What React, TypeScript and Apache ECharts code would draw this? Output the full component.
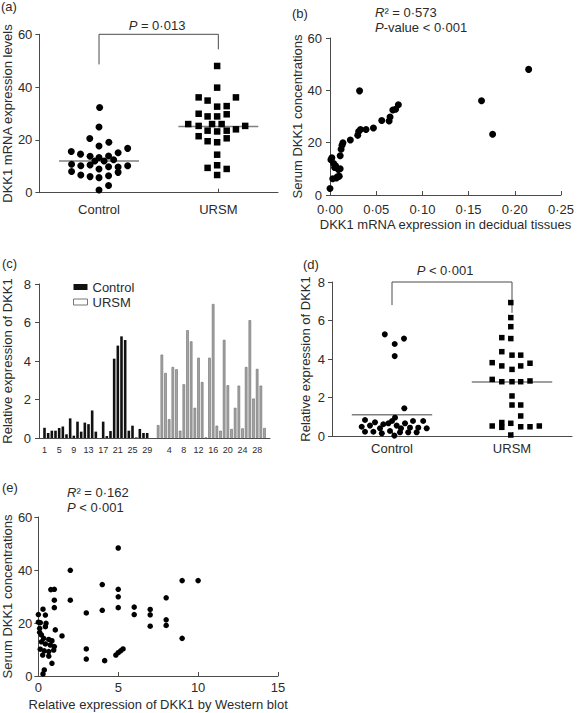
import React, { useEffect, useRef } from 'react';
import * as echarts from 'echarts';

// ---------- DATA ----------
const groups = ['Control', 'URSM'];

// (a) DKK1 mRNA expression levels: [x position (Control=1, URSM=3), value]
const aControl: number[][] = [
  [1.01, 32.3], [1.0, 24.9], [0.845, 20.5], [1.165, 19.1], [1.0, 17.7], [1.48, 16.8], [0.535, 15.6],
  [1.32, 15.1], [0.69, 14.6], [0.85, 13.8], [1.16, 13.9], [1.0, 13.3], [1.245, 12.5], [0.93, 12.0],
  [1.085, 12.0], [0.54, 10.8], [0.695, 10.2], [0.85, 10.5], [1.48, 10.2], [1.32, 9.7], [1.16, 9.8],
  [1.0, 9.0], [0.54, 8.0], [1.32, 7.7], [0.695, 6.7], [0.85, 6.1], [1.16, 6.4], [1.0, 5.7],
  [1.16, 2.7], [1.0, 1.0],
];
const aURSM: number[][] = [
  [2.98, 48.0], [2.98, 39.8], [2.67, 36.1], [3.295, 36.1], [2.82, 34.9], [2.98, 32.6], [3.14, 32.8],
  [2.67, 29.9], [2.82, 28.9], [2.98, 28.9], [3.14, 29.7], [2.495, 26.0], [2.67, 25.3], [2.895, 26.0],
  [3.055, 26.0], [3.45, 25.3], [2.82, 23.5], [2.98, 23.2], [3.14, 23.5], [3.295, 24.0], [2.67, 21.4],
  [2.82, 19.5], [2.98, 19.1], [3.14, 20.6], [2.98, 14.4], [2.82, 9.4], [3.14, 9.0], [2.98, 10.4],
  [2.98, 6.7],
];
const aMedians = [12.0, 25.1];
const aBracket = [48.6, 60, 54.3]; // left end, top, right end
const aP = '0·013';

// (b) DKK1 mRNA in decidual tissues vs serum DKK1
const bPoints: number[][] = [
  [0.0, 2.5], [0.001, 13.5], [0.002, 14.2], [0.003, 6.2], [0.004, 12.0], [0.005, 10.5], [0.006, 11.2],
  [0.007, 6.5], [0.008, 7.0], [0.009, 9.8], [0.010, 7.2], [0.011, 10.0], [0.011, 15.0], [0.012, 17.5],
  [0.013, 19.0], [0.014, 20.0], [0.022, 21.0], [0.030, 22.8], [0.031, 24.3], [0.033, 25.0],
  [0.032, 39.8], [0.039, 25.0], [0.047, 25.6], [0.056, 28.5], [0.064, 28.3], [0.065, 29.8],
  [0.068, 32.5], [0.071, 32.8], [0.074, 34.5], [0.164, 36.0], [0.176, 23.2], [0.215, 48.0],
];
const bR2 = '0·573';
const bP = '0·001';

// (c) relative expression of DKK1 per sample
const cControl = [
  0.53, 0.26, 0.38, 0.38, 0.52, 0.6, 0.19, 1.02, 0.12, 0.85, 0.33, 0.8, 0.72, 1.43, 0.33,
  0.0, 0.85, 0.1, 0.36, 4.12, 4.8, 5.28, 5.09, 0.38, 0.64, 0.03, 0.47, 0.26, 0.26, 0.0,
];
const cURSM = [
  0.67, 4.33, 3.38, 0.98, 3.69, 3.57, 0.38, 2.79, 5.6, 5.02, 1.57, 4.17, 2.91, 0.03, 4.17,
  6.96, 0.64, 0.38, 5.1, 2.74, 0.47, 1.57, 2.72, 0.5, 3.69, 6.12, 2.05, 3.59, 2.72, 0.52,
];

// (d) relative expression of DKK1 by group
const dControl: number[][] = [
  [0.88, 5.28], [1.045, 4.78], [1.2, 5.06], [1.045, 4.15], [1.205, 1.44],
  [1.05, 0.95], [1.0, 0.78], [0.94, 0.66], [0.55, 0.83], [0.717, 0.71], [0.855, 0.61], [1.217, 0.66],
  [1.35, 0.78], [1.52, 0.78], [0.495, 0.48], [0.633, 0.54], [0.8, 0.4], [1.078, 0.54], [1.15, 0.4],
  [1.3, 0.43], [1.438, 0.43], [1.578, 0.4], [0.55, 0.22], [0.69, 0.22], [0.83, 0.14], [0.967, 0.26],
  [1.133, 0.19], [1.27, 0.19], [1.41, 0.19], [1.04, 0.02],
];
const dURSM: number[][] = [
  [2.98, 6.93], [2.98, 6.15], [2.98, 5.68], [2.83, 5.11], [2.98, 5.06], [2.83, 4.38], [3.0, 4.2],
  [3.145, 4.2], [2.67, 3.81], [2.83, 3.64], [3.0, 3.46], [3.145, 3.64], [3.3, 3.78], [2.67, 2.94],
  [2.83, 2.82], [3.0, 2.82], [3.145, 2.82], [3.3, 2.86], [3.0, 2.08], [3.0, 1.61], [3.145, 1.61],
  [3.145, 1.04], [2.67, 0.52], [2.83, 0.7], [2.83, 0.45], [2.98, 0.66], [3.145, 0.48], [3.3, 0.48],
  [3.455, 0.52], [2.98, 0.05],
];
const dMedians = [1.1, 2.8];
const dBracket = [6.8, 8, 6.4];
const dP = '0·001';

// (e) Western blot vs serum DKK1
const ePoints: number[][] = [
  [0.0, 23.2], [0.29, 25.2], [0.44, 23.0], [0.0, 20.3], [0.12, 20.1], [0.48, 19.9], [0.44, 18.6],
  [0.08, 18.0], [0.08, 16.5], [0.19, 15.5], [0.33, 14.2], [0.65, 13.8], [0.85, 13.3], [0.19, 12.9],
  [0.44, 12.1], [0.75, 11.7], [1.0, 11.1], [0.12, 10.1], [0.37, 9.5], [0.65, 9.2], [0.96, 9.8],
  [0.27, 7.9], [0.65, 7.5], [0.85, 4.8], [0.37, 2.3], [0.29, 0.8], [1.06, 17.4], [1.48, 15.1],
  [0.78, 32.6], [1.0, 32.7], [1.0, 28.6], [1.0, 25.8],
  [2.0, 39.9], [2.0, 28.6], [3.0, 23.8], [3.0, 10.2], [3.0, 6.4], [4.0, 34.5], [4.0, 24.8],
  [4.15, 5.8], [4.85, 7.9], [5.0, 8.8], [5.15, 9.5], [5.3, 10.2], [5.0, 48.3], [5.0, 32.7],
  [5.0, 29.9], [5.0, 25.8], [6.0, 26.0], [6.0, 23.2], [7.0, 25.1], [7.0, 23.1], [7.0, 18.8],
  [8.0, 29.5], [8.0, 21.2], [8.0, 19.1], [9.0, 36.0], [9.0, 14.2], [10.0, 36.0],
];
const eR2 = '0·162';
const eP = '0·001';

// ---------- STYLE ----------
const FONT = '"Liberation Sans", Arial, Helvetica, sans-serif';
const TXT = '#2b2b2b';
const AX = '#4a4a4a';
const MED = '#808080';
const MEDIAN_HALF = 0.67;

const dot = (v: number, d: number) => v.toFixed(d).replace('.', '·');

const cCategories = [
  'start',
  ...cControl.map((_, i) => `C${i + 1}`),
  'gap',
  ...cURSM.map((_, i) => `U${i + 1}`),
  'end',
];
const cControlSeries = cCategories.map((c) => (c[0] === 'C' ? cControl[+c.slice(1) - 1] : '-'));
const cURSMSeries = cCategories.map((c) => (c[0] === 'U' ? cURSM[+c.slice(1) - 1] : '-'));

function yAxisOf(gridIndex: number, max: number, interval: number, name: string, nameGap: number, margin: number) {
  return {
    type: 'value', gridIndex, min: 0, max, interval, name, nameLocation: 'middle', nameGap,
    nameTextStyle: { fontSize: 13, fontFamily: FONT, color: TXT },
    axisLine: { show: true, lineStyle: { color: AX, width: 1 } },
    axisTick: { show: true, inside: false, length: 4, lineStyle: { color: AX } },
    axisLabel: { fontSize: 13, fontFamily: FONT, color: TXT, margin },
    splitLine: { show: false },
  };
}

function groupXAxis(gridIndex: number, margin: number) {
  return {
    type: 'value', gridIndex, min: 0, max: 4, interval: 1,
    axisLine: { show: true, lineStyle: { color: AX, width: 1 } },
    axisTick: { show: true, inside: true, length: 4, lineStyle: { color: AX }, customValues: [1, 3] },
    axisLabel: {
      fontSize: 13, fontFamily: FONT, color: TXT, margin, customValues: [1, 3],
      formatter: (v: number) => groups[Math.round((v - 1) / 2)] ?? '',
    },
    splitLine: { show: false },
  };
}

function medianSeries(xi: number, yi: number, center: number, value: number) {
  return {
    type: 'line', xAxisIndex: xi, yAxisIndex: yi, symbol: 'none', silent: true, z: 1,
    lineStyle: { color: MED, width: 1.5 },
    data: [[center - MEDIAN_HALF, value], [center + MEDIAN_HALF, value]],
  };
}

function bracketSeries(xi: number, yi: number, b: number[]) {
  return {
    type: 'line', xAxisIndex: xi, yAxisIndex: yi, symbol: 'none', silent: true, clip: false,
    lineStyle: { color: AX, width: 1 },
    data: [[1, b[0]], [1, b[1]], [3, b[1]], [3, b[2]]],
  };
}

const rich = {
  i: { fontStyle: 'italic', fontSize: 13, fontFamily: FONT, fill: TXT, color: TXT },
  n: { fontSize: 13, fontFamily: FONT, fill: TXT, color: TXT },
};

function txt(x: number, y: number, text: string, align = 'left') {
  return {
    type: 'text', x, y, silent: true,
    style: {
      text, fontSize: 13, fontFamily: FONT, fill: TXT,
      textAlign: align, align, textVerticalAlign: 'middle', verticalAlign: 'middle', rich,
    },
  };
}

export default function App() {
  const ref = useRef<HTMLDivElement>(null);
  useEffect(() => {
    document.body.style.margin = '0';
    const chart = echarts.init(ref.current!, null, { renderer: 'svg' });
    const option: any = {
      animation: false,
      backgroundColor: '#ffffff',
      textStyle: { fontFamily: FONT },
      grid: [
        { left: 38, top: 34.3, width: 240, height: 158.4 },
        { left: 330, top: 38, width: 233, height: 157 },
        { left: 39, top: 284, width: 231, height: 154 },
        { left: 332, top: 282, width: 240, height: 154 },
        { left: 38, top: 517, width: 240, height: 159 },
      ],
      legend: {
        left: 73, top: 280, padding: 0, orient: 'vertical', itemWidth: 14, itemHeight: 6, itemGap: 1,
        selectedMode: false, icon: 'rect',
        textStyle: { fontSize: 13, fontFamily: FONT, color: TXT, lineHeight: 14 },
        data: [
          { name: 'Control', itemStyle: { color: '#111111', borderWidth: 0 } },
          { name: 'URSM', itemStyle: { color: '#ffffff', borderColor: '#777777', borderWidth: 1 } },
        ],
      },
      xAxis: [
        groupXAxis(0, 10),
        {
          type: 'value', gridIndex: 1, min: 0, max: 0.25, interval: 0.05,
          name: 'DKK1 mRNA expression in decidual tissues', nameLocation: 'middle', nameGap: 23,
          nameTextStyle: { fontSize: 13, fontFamily: FONT, color: TXT },
          axisLine: { show: true, lineStyle: { color: AX, width: 1 } },
          axisTick: { show: true, inside: true, length: 4, lineStyle: { color: AX } },
          axisLabel: { fontSize: 13, fontFamily: FONT, color: TXT, margin: 8, formatter: (v: number) => dot(v, 2) },
          splitLine: { show: false },
        },
        {
          type: 'category', gridIndex: 2, data: cCategories,
          axisLine: { show: true, lineStyle: { color: AX, width: 1 } },
          axisTick: { show: false },
          axisLabel: {
            fontSize: 9, fontFamily: FONT, color: TXT, margin: 7,
            interval: (_i: number, v: string) =>
              (v[0] === 'C' && (+v.slice(1) - 1) % 4 === 0) || (v[0] === 'U' && +v.slice(1) % 4 === 0),
            formatter: (v: string) => (v[0] === 'C' || v[0] === 'U' ? v.slice(1) : ''),
          },
          splitLine: { show: false },
        },
        groupXAxis(3, 6),
        {
          type: 'value', gridIndex: 4, min: 0, max: 15, interval: 5,
          name: 'Relative expression of DKK1 by Western blot', nameLocation: 'middle', nameGap: 22,
          nameTextStyle: { fontSize: 13, fontFamily: FONT, color: TXT },
          axisLine: { show: true, lineStyle: { color: AX, width: 1 } },
          axisTick: { show: true, inside: true, length: 4, lineStyle: { color: AX } },
          axisLabel: { fontSize: 13, fontFamily: FONT, color: TXT, margin: 5 },
          splitLine: { show: false },
        },
      ],
      yAxis: [
        yAxisOf(0, 60, 20, 'DKK1 mRNA expression levels', 24, 7),
        yAxisOf(1, 60, 20, 'Serum DKK1 concentrations', 23, 8),
        yAxisOf(2, 8, 2, 'Relative expression of DKK1', 25, 8),
        yAxisOf(3, 8, 2, 'Relative expression of DKK1', 20, 7),
        yAxisOf(4, 60, 20, 'Serum DKK1 concentrations', 24, 6),
      ],
      series: [
        // (a)
        medianSeries(0, 0, 1, aMedians[0]),
        medianSeries(0, 0, 3, aMedians[1]),
        bracketSeries(0, 0, aBracket),
        { type: 'scatter', name: 'a-Control', xAxisIndex: 0, yAxisIndex: 0, symbol: 'circle', symbolSize: 7, itemStyle: { color: '#000', opacity: 1 }, data: aControl, z: 3 },
        { type: 'scatter', name: 'a-URSM', xAxisIndex: 0, yAxisIndex: 0, symbol: 'rect', symbolSize: 6.5, itemStyle: { color: '#000', opacity: 1 }, data: aURSM, z: 3 },
        // (b)
        { type: 'scatter', name: 'b', xAxisIndex: 1, yAxisIndex: 1, symbol: 'circle', symbolSize: 7, itemStyle: { color: '#000', opacity: 1 }, data: bPoints },
        // (c)
        {
          type: 'bar', name: 'Control', xAxisIndex: 2, yAxisIndex: 2, data: cControlSeries,
          barWidth: 2.6, barGap: '-100%', itemStyle: { color: '#111111' },
        },
        {
          type: 'bar', name: 'URSM', xAxisIndex: 2, yAxisIndex: 2, data: cURSMSeries,
          barWidth: 2.6, barGap: '-100%', itemStyle: { color: '#a3a3a3', borderColor: '#6e6e6e', borderWidth: 0.6 },
        },
        // (d)
        medianSeries(3, 3, 1, dMedians[0]),
        medianSeries(3, 3, 3, dMedians[1]),
        bracketSeries(3, 3, dBracket),
        { type: 'scatter', name: 'd-Control', xAxisIndex: 3, yAxisIndex: 3, symbol: 'circle', symbolSize: 6, itemStyle: { color: '#000', opacity: 1 }, data: dControl, z: 3 },
        { type: 'scatter', name: 'd-URSM', xAxisIndex: 3, yAxisIndex: 3, symbol: 'rect', symbolSize: 5.5, itemStyle: { color: '#000', opacity: 1 }, data: dURSM, z: 3 },
        // (e)
        { type: 'scatter', name: 'e', xAxisIndex: 4, yAxisIndex: 4, symbol: 'circle', symbolSize: 5.5, itemStyle: { color: '#000', opacity: 1 }, data: ePoints },
      ],
      graphic: [
        txt(1, 6, '(a)'),
        txt(157, 25, `{i|P}{n| = ${aP}}`, 'center'),
        txt(292, 13, '(b)'),
        txt(375, 12.5, `{i|R}{n|² = ${bR2}}`),
        txt(375, 27, `{i|P}{n|-value < ${bP}}`),
        txt(2, 263, '(c)'),
        txt(303, 264, '(d)'),
        txt(445, 270, `{i|P}{n| < ${dP}}`, 'center'),
        txt(2, 487, '(e)'),
        txt(67, 492, `{i|R}{n|² = ${eR2}}`),
        txt(67, 507, `{i|P}{n| < ${eP}}`),
      ],
    };
    chart.setOption(option);
    return () => chart.dispose();
  }, []);
  return <div ref={ref} style={{ width: 577, height: 713, background: '#fff' }} />;
}
